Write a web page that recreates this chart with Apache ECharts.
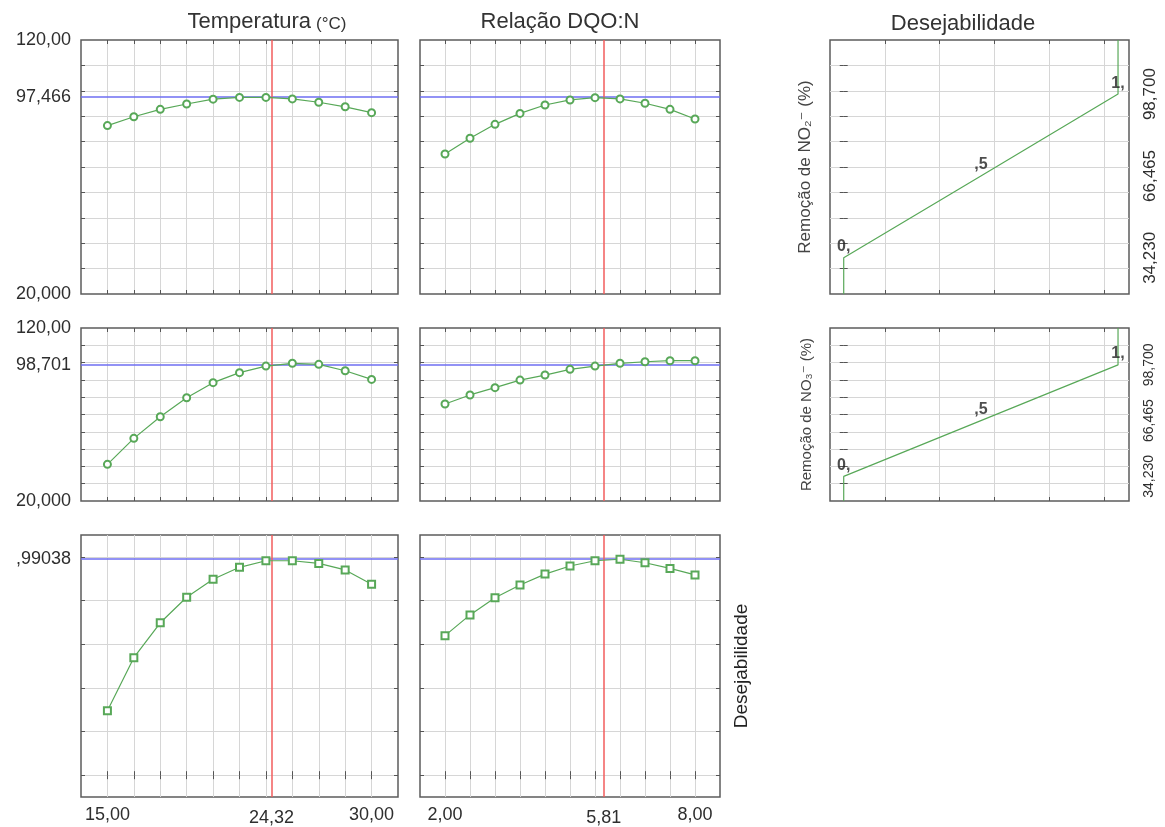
<!DOCTYPE html>
<html>
<head>
<meta charset="utf-8">
<title>Perfis de valores preditos e desejabilidade</title>
<script src="https://cdn.jsdelivr.net/npm/echarts@6/dist/echarts.min.js"></script>
<style>
  html, body { margin: 0; padding: 0; background: #fff; }
  #chart { width: 1165px; height: 827px; }
</style>
</head>
<body>
<div id="chart"></div>
<script>
// factor levels used for the profiles
const tempLevels = [15, 16.5, 18, 19.5, 21, 22.5, 24, 25.5, 27, 28.5, 30];
const dqoLevels = [2, 2.6, 3.2, 3.8, 4.4, 5, 5.6, 6.2, 6.8, 7.4, 8];

// predicted responses
const no2ByTemp = [86.3, 89.8, 92.7, 94.8, 96.7, 97.4, 97.4, 96.8, 95.5, 93.7, 91.4];
const no2ByDqo = [75.1, 81.3, 86.8, 91.1, 94.4, 96.4, 97.3, 96.8, 95.1, 92.7, 88.9];
const no3ByTemp = [41.2, 56.2, 68.7, 79.7, 88.4, 94.2, 98.0, 99.6, 99.0, 95.3, 90.3];
const no3ByDqo = [76.1, 81.3, 85.5, 89.9, 92.8, 96.1, 98.0, 99.6, 100.5, 101.1, 101.1];
const deseByTemp = [0.295, 0.538, 0.698, 0.815, 0.897, 0.952, 0.982, 0.982, 0.970, 0.940, 0.874];
const deseByDqo = [0.639, 0.734, 0.813, 0.871, 0.921, 0.958, 0.982, 0.989, 0.973, 0.947, 0.917];

// optimum point
const tempOpt = 24.32;
const dqoOpt = 5.81;
const no2Opt = 97.466;
const no3Opt = 98.701;
const deseOpt = 0.99038;

// desirability function: response -> desirability
const desirValues = [0, 0.5, 1];
const desirResponse = [34.23, 66.465, 98.7];
const desirLabels = ['0,', ',5', '1,'];

// tick positions (grid lines) and tick labels
const tempGridTicks = tempLevels;
const dqoGridTicks = dqoLevels;
const respGridTicks = [30, 40, 50, 60, 70, 80, 90, 100, 110];
const deseGridTicks = [0, 0.2, 0.4, 0.6, 0.8, 1.0];
const desirGridTicks = [0.15, 0.35, 0.55, 0.75, 0.95];

const tempTickValues = [15, tempOpt, 30];
const tempTickText = ['15,00', '24,32', '30,00'];
const dqoTickValues = [2, dqoOpt, 8];
const dqoTickText = ['2,00', '5,81', '8,00'];
const no2TickValues = [20, no2Opt, 120];
const no2TickText = ['20,000', '97,466', '120,00'];
const no3TickValues = [20, no3Opt, 120];
const no3TickText = ['20,000', '98,701', '120,00'];
const deseTickValues = [deseOpt];
const deseTickText = [',99038'];
const desirTickText = ['34,230', '66,465', '98,700'];

const FONT = 'Liberation Sans, Arial, DejaVu Sans, sans-serif';
const TXT = '#2e2e2e';
const GREEN = '#58a858';
const BLUE = '#6e6ef2';
const RED = '#f25c5c';

function lookup(values, texts, optValue) {
  return v => {
    const i = values.findIndex(t => Math.abs(t - v) < 1e-6);
    if (i < 0) return '';
    return values[i] === optValue ? '{lo|' + texts[i] + '}' : texts[i];
  };
}

const grids = [], xAxes = [], yAxes = [], series = [];

function tick(custom) {
  return { show: true, inside: true, length: 4, customValues: custom,
           lineStyle: { color: '#555', width: 1 } };
}

// one bordered panel with inside ticks on all four sides
function panel(box, x, y) {
  const gi = grids.length;
  grids.push({ left: box[0], top: box[1], width: box[2], height: box[3],
               show: true, borderColor: '#5c5c5c', borderWidth: 1.5,
               backgroundColor: '#fff', outerBoundsMode: 'none' });
  const xi = xAxes.length, yi = yAxes.length;
  ['bottom', 'top'].forEach((pos, k) => {
    xAxes.push({
      type: 'value', gridIndex: gi, position: pos, min: x.min, max: x.max,
      axisLine: { show: false }, axisTick: tick(x.grid),
      splitLine: { show: k === 0, lineStyle: { color: '#d6d6d6', width: 1 } },
      axisLabel: (k === 0 && x.labels) ? x.labels : { show: false }
    });
  });
  ['left', 'right'].forEach((pos, k) => {
    const side = k === 0 ? y.left : y.right;
    const ax = {
      type: 'value', gridIndex: gi, position: pos, min: y.min, max: y.max,
      axisLine: { show: false }, axisTick: tick(y.grid),
      splitLine: { show: k === 0, lineStyle: { color: '#d6d6d6', width: 1 } },
      axisLabel: (side && side.labels) ? side.labels : { show: false }
    };
    if (side && side.name) Object.assign(ax, side.name);
    yAxes.push(ax);
  });
  return { xi: xi, yi: yi };
}

function profile(ax, xs, ys, yOpt, xOpt, symbol) {
  series.push({
    type: 'line', xAxisIndex: ax.xi, yAxisIndex: ax.yi,
    data: xs.map((v, i) => [v, ys[i]]),
    symbol: symbol, symbolSize: 7, z: 5,
    lineStyle: { color: GREEN, width: 1.2 },
    itemStyle: { color: GREEN, borderColor: GREEN, borderWidth: 1.2 },
    markLine: {
      silent: true, symbol: 'none', animation: false, z: 3,
      label: { show: false },
      data: [
        { yAxis: yOpt, lineStyle: { color: BLUE, width: 1.5, type: 'solid' } },
        { xAxis: xOpt, lineStyle: { color: RED, width: 1.5, type: 'solid' } }
      ]
    }
  });
}

const cols = [[81, 317], [420, 300], [830, 299]];
const rows = [[40, 254], [328, 173], [535, 262]];
const box = (r, c) => [cols[c][0], rows[r][0], cols[c][1], rows[r][1]];

const tempX = { min: 13.5, max: 31.5, grid: tempGridTicks };
const dqoX = { min: 1.4, max: 8.6, grid: dqoGridTicks };
const yLab = (vals, txt) => ({
  labels: { show: true, customValues: vals, formatter: lookup(vals, txt),
            fontSize: 18, fontFamily: FONT, color: TXT, margin: 10 } });
const xLab = (vals, txt, opt) => ({
  show: true, customValues: vals, formatter: lookup(vals, txt, opt),
  fontSize: 18, fontFamily: FONT, color: TXT, margin: 9,
  rich: { lo: { fontSize: 18, fontFamily: FONT, color: TXT, padding: [3, 0, 0, 0] } } });

// row 1: NO2 removal
let a = panel(box(0, 0), tempX,
  { min: 20, max: 120, grid: respGridTicks, left: yLab(no2TickValues, no2TickText) });
profile(a, tempLevels, no2ByTemp, no2Opt, tempOpt, 'emptyCircle');
a = panel(box(0, 1), dqoX, { min: 20, max: 120, grid: respGridTicks });
profile(a, dqoLevels, no2ByDqo, no2Opt, dqoOpt, 'emptyCircle');

// row 2: NO3 removal
a = panel(box(1, 0), tempX,
  { min: 20, max: 120, grid: respGridTicks, left: yLab(no3TickValues, no3TickText) });
profile(a, tempLevels, no3ByTemp, no3Opt, tempOpt, 'emptyCircle');
a = panel(box(1, 1), dqoX, { min: 20, max: 120, grid: respGridTicks });
profile(a, dqoLevels, no3ByDqo, no3Opt, dqoOpt, 'emptyCircle');

// row 3: overall desirability
a = panel(box(2, 0),
  Object.assign({}, tempX, { labels: xLab(tempTickValues, tempTickText, tempOpt) }),
  { min: -0.1, max: 1.1, grid: deseGridTicks, left: yLab(deseTickValues, deseTickText) });
profile(a, tempLevels, deseByTemp, deseOpt, tempOpt, 'emptyRect');
a = panel(box(2, 1),
  Object.assign({}, dqoX, { labels: xLab(dqoTickValues, dqoTickText, dqoOpt) }),
  { min: -0.1, max: 1.1, grid: deseGridTicks,
    right: { name: { name: 'Desejabilidade', nameLocation: 'middle', nameGap: 12, nameRotate: 90,
      nameTextStyle: { fontSize: 19, fontFamily: FONT, color: '#222' } } } });
profile(a, dqoLevels, deseByDqo, deseOpt, dqoOpt, 'emptyRect');

// right column: desirability functions
function desirPanel(r, yName, fs, nameSize) {
  const ax = panel(box(r, 2), { min: -0.05, max: 1.04, grid: desirGridTicks }, {
    min: 20, max: 120, grid: respGridTicks,
    left: { name: { name: yName, nameLocation: 'middle', nameGap: 16, nameRotate: 90,
      nameTextStyle: { fontSize: nameSize, fontFamily: FONT, color: '#444' } } },
    right: { labels: { show: true, customValues: desirResponse,
      formatter: lookup(desirResponse, desirTickText), rotate: 90,
      fontSize: fs, fontFamily: FONT, color: TXT, margin: 13 } }
  });
  const line = [[desirValues[0], 20]]
    .concat(desirValues.map((d, i) => [d, desirResponse[i]]))
    .concat([[desirValues[desirValues.length - 1], 120]]);
  series.push({
    type: 'line', xAxisIndex: ax.xi, yAxisIndex: ax.yi, data: line,
    symbol: 'none', lineStyle: { color: GREEN, width: 1.2 }, z: 4
  });
  series.push({
    type: 'scatter', xAxisIndex: ax.xi, yAxisIndex: ax.yi, symbolSize: 0, z: 6,
    data: desirValues.map((d, i) => [d, desirResponse[i]]),
    label: { show: true, position: 'top', distance: 3, fontSize: 16, fontWeight: 'bold',
             fontFamily: FONT, color: '#222', formatter: p => desirLabels[p.dataIndex] }
  });
}
desirPanel(0, 'Remoção de NO₂⁻ (%)', 17, 17);
desirPanel(1, 'Remoção de NO₃⁻ (%)', 14, 15);

const titleStyle = { fontSize: 22, fontWeight: 'normal', fontFamily: FONT, color: '#333' };
const option = {
  animation: false,
  backgroundColor: '#fff',
  title: [
    { text: '{a|Temperatura} {b|(°C)}', left: 262, top: 6, textAlign: 'center',
      textStyle: { rich: { a: titleStyle, b: Object.assign({}, titleStyle, { fontSize: 17, padding: [4, 0, 0, 0] }) } } },
    { text: 'Relação DQO:N', left: 555, top: 6, textAlign: 'center', textStyle: titleStyle },
    { text: 'Desejabilidade', left: 958, top: 8, textAlign: 'center', textStyle: titleStyle }
  ],
  grid: grids,
  xAxis: xAxes,
  yAxis: yAxes,
  series: series
};

const chart = echarts.init(document.getElementById('chart'));
chart.setOption(option);
window.addEventListener('resize', () => chart.resize());
</script>
</body>
</html>
